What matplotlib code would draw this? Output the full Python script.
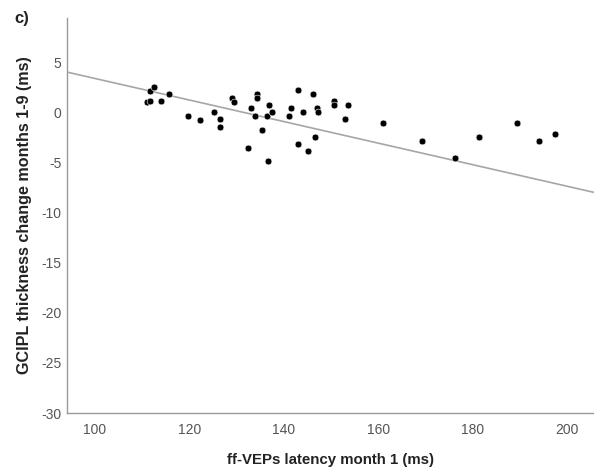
import matplotlib.pyplot as plt
import numpy as np

# Data (ms)
latency = [111.1, 111.7, 111.7, 112.5, 114.0, 115.7, 119.8, 122.2, 125.2, 126.5,
           126.5, 129.0, 129.5, 132.4, 133.0, 134.3, 134.3, 134.0, 135.4, 136.4,
           136.9, 137.5, 136.7, 141.0, 141.5, 142.9, 142.9, 144.1, 145.2, 146.1,
           146.6, 147.0, 147.2, 150.7, 150.7, 153.5, 152.9, 161.0, 169.3, 176.3,
           181.4, 189.3, 194.0, 197.5]
gcipl_change = [1.07, 1.1, 2.1, 2.5, 1.1, 1.8, -0.35, -0.74, 0.02, -0.71,
                -1.44, 1.47, 1.07, -3.56, 0.38, 1.8, 1.39, -0.35, -1.78, -0.35,
                0.74, 0.05, -4.9, -0.35, 0.38, 2.23, -3.2, 0.05, -3.9, 1.8,
                -2.5, 0.4, 0.0, 1.14, 0.74, 0.71, -0.69, -1.07, -2.9, -4.57,
                -2.5, -1.1, -2.9, -2.16]

# reference line as drawn in the figure
fit_intercept = 14.12
fit_slope = -0.1075

x_ticks = [100, 120, 140, 160, 180, 200]
y_ticks = [-30, -25, -20, -15, -10, -5, 0, 5]

plt.rcParams['font.family'] = ['Liberation Sans', 'DejaVu Sans']
plt.rcParams['axes.unicode_minus'] = False

fig = plt.figure(figsize=(5.94, 4.68), dpi=100)
ax = fig.add_axes([0.113, 0.1175, 0.887, 0.844])

ax.axline((0, fit_intercept), slope=fit_slope, color="#a6a6a6", linewidth=1.2, zorder=2)
ax.scatter(latency, gcipl_change, s=24, color="black", edgecolors="white", linewidths=0.4, zorder=3)

ax.set_xlim(94.1, 205.7)
ax.set_ylim(-30, 9.4)
ax.set_xticks(x_ticks)
ax.set_yticks(y_ticks)

for spine in ["top", "right"]:
    ax.spines[spine].set_visible(False)
for spine in ["left", "bottom"]:
    ax.spines[spine].set_color("#9a9a9a")
    ax.spines[spine].set_linewidth(1.0)

ax.tick_params(axis="both", length=0, labelsize=10, colors="#555555")
ax.tick_params(axis="x", pad=7)
ax.tick_params(axis="y", pad=4)

ax.set_xlabel("ff-VEPs latency month 1 (ms)", fontsize=10.8, fontweight="bold", color="#222222", labelpad=12)
ax.set_ylabel("GCIPL thickness change months 1-9 (ms)", fontsize=11.6, fontweight="bold", color="#222222", labelpad=7)

fig.text(0.025, 0.96, "c)", fontsize=12, fontweight="bold", color="#222222", va="center")

fig.savefig("out.png", dpi=100)
